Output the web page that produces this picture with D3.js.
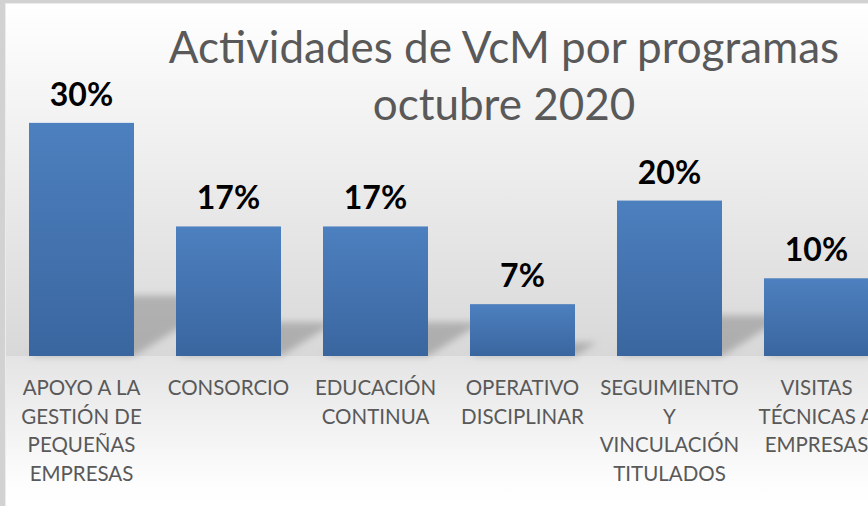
<!DOCTYPE html>
<html>
<head>
<meta charset="utf-8">
<script src="https://cdn.jsdelivr.net/npm/d3@7"></script>
<style>
html,body{margin:0;padding:0;background:#fff;overflow:hidden;}
svg{display:block;}
</style>
</head>
<body>
<svg id="chart" width="868" height="506"></svg>
<script>
// ---- data ----
const titleLines = ["Actividades de VcM por programas", "octubre 2020"];
const categories = [
  "APOYO A LA GESTIÓN DE PEQUEÑAS EMPRESAS",
  "CONSORCIO",
  "EDUCACIÓN CONTINUA",
  "OPERATIVO DISCIPLINAR",
  "SEGUIMIENTO Y VINCULACIÓN TITULADOS",
  "VISITAS TÉCNICAS A EMPRESAS"
];
const categoryLines = [
  ["APOYO A LA", "GESTIÓN DE", "PEQUEÑAS", "EMPRESAS"],
  ["CONSORCIO"],
  ["EDUCACIÓN", "CONTINUA"],
  ["OPERATIVO", "DISCIPLINAR"],
  ["SEGUIMIENTO", "Y", "VINCULACIÓN", "TITULADOS"],
  ["VISITAS", "TÉCNICAS A", "EMPRESAS"]
];
const values = [0.30, 0.1667, 0.1667, 0.0667, 0.20, 0.10];
const yDomain = [0, 0.35];

// ---- layout ----
const W = 868, H = 506;
const base = 356;
const svg = d3.select("#chart");
const defs = svg.append("defs");

const bgTop = defs.append("linearGradient").attr("id", "bgTop")
  .attr("x1", 0).attr("y1", 0).attr("x2", 0).attr("y2", 1);
bgTop.append("stop").attr("offset", "0%").attr("stop-color", "#ffffff");
bgTop.append("stop").attr("offset", "100%").attr("stop-color", "#d8d8d8");

const bgBot = defs.append("linearGradient").attr("id", "bgBot")
  .attr("x1", 0).attr("y1", 0).attr("x2", 0).attr("y2", 1);
bgBot.append("stop").attr("offset", "0%").attr("stop-color", "#e4e4e4");
bgBot.append("stop").attr("offset", "85%").attr("stop-color", "#fdfdfd");
bgBot.append("stop").attr("offset", "100%").attr("stop-color", "#ffffff");

const barGrad = defs.append("linearGradient").attr("id", "barGrad")
  .attr("x1", 0).attr("y1", 0).attr("x2", 0).attr("y2", 1);
barGrad.append("stop").attr("offset", "0%").attr("stop-color", "#4d80bf");
barGrad.append("stop").attr("offset", "100%").attr("stop-color", "#3a669f");

const blur = defs.append("filter").attr("id", "blur")
  .attr("x", "-50%").attr("y", "-50%").attr("width", "200%").attr("height", "200%");
blur.append("feGaussianBlur").attr("stdDeviation", 3.5);

// frame
svg.append("rect").attr("x", 0).attr("y", 0).attr("width", W).attr("height", H).attr("fill", "#d2d2d2");
svg.append("rect").attr("x", 5).attr("y", 3).attr("width", W - 5).attr("height", H - 3).attr("fill", "#ececec");
svg.append("rect").attr("x", 6).attr("y", 4).attr("width", W - 6).attr("height", base - 4).attr("fill", "url(#bgTop)");
svg.append("rect").attr("x", 6).attr("y", base).attr("width", W - 6).attr("height", H - base).attr("fill", "url(#bgBot)");

// scales
const x = d3.scaleBand().domain(categories).range([8, 890])
  .paddingInner(0.2857).paddingOuter(0.1429);
const y = d3.scaleLinear().domain(yDomain).range([base, 84]);

// shadows
const shadowG = svg.append("g").attr("filter", "url(#blur)");
categories.forEach((c, i) => {
  const x0 = x(c), x1 = x(c) + x.bandwidth();
  const h = base - y(values[i]);
  const dy = Math.min(0.26 * h, 62), dx = 1.6 * dy;
  shadowG.append("path")
    .attr("d", `M${x0},${base}L${x1},${base}L${x1 + dx},${base - dy}L${x0 + dx},${base - dy}Z`)
    .attr("fill", "#8a8a8a").attr("opacity", 0.55);
});

// bars
svg.append("g").selectAll("rect").data(values).join("rect")
  .attr("x", (d, i) => x(categories[i]))
  .attr("y", d => y(d))
  .attr("width", x.bandwidth())
  .attr("height", d => base - y(d))
  .attr("fill", "url(#barGrad)");

// data labels
const fmt = d3.format(".0%");
svg.append("g").selectAll("text").data(values).join("text")
  .attr("x", (d, i) => x(categories[i]) + x.bandwidth() / 2)
  .attr("y", d => y(d) - 17)
  .attr("text-anchor", "middle")
  .attr("font-family", "Lato, 'Open Sans', sans-serif")
  .attr("font-weight", "bold")
  .attr("font-size", 32)
  .attr("fill", "#000")
  .text(d => fmt(d));

// category labels
const catG = svg.append("g");
categories.forEach((c, i) => {
  const t = catG.append("text")
    .attr("x", x(c) + x.bandwidth() / 2)
    .attr("y", 395)
    .attr("text-anchor", "middle")
    .attr("font-family", "Lato, 'Open Sans', sans-serif")
    .attr("font-size", 20.5)
    .attr("fill", "#595959");
  categoryLines[i].forEach((ln, j) => {
    t.append("tspan").attr("x", x(c) + x.bandwidth() / 2).attr("y", 395 + j * 28.7).text(ln);
  });
});

// title
const tg = svg.append("g");
titleLines.forEach((ln, j) => {
  tg.append("text")
    .attr("x", 504)
    .attr("y", j === 0 ? 63 : 120)
    .attr("text-anchor", "middle")
    .attr("font-family", "Lato, 'Open Sans', sans-serif")
    .attr("font-size", 44)
    .attr("fill", "#595959")
    .text(ln);
});
</script>
</body>
</html>
